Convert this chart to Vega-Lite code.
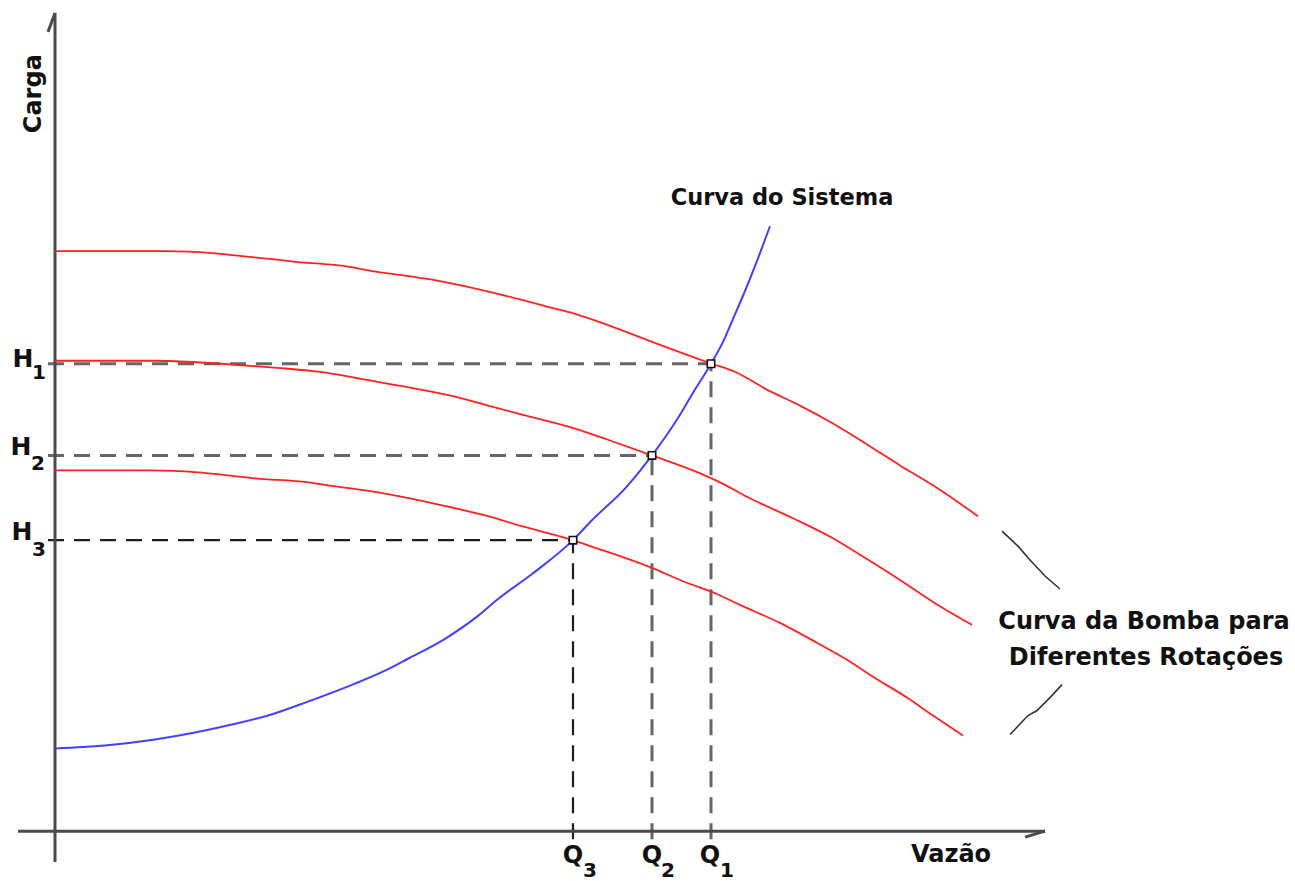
{
  "$schema": "https://vega.github.io/schema/vega-lite/v6.json",
  "width": 1295,
  "height": 881,
  "autosize": {"type": "fit", "contains": "padding"},
  "padding": 0,
  "background": "white",
  "config": {"view": {"stroke": null}},
  "datasets": {
    "curves": [
      {"id": "ya", "kind": "axis", "o": 0, "x": 0, "y": 821},
      {"id": "ya", "kind": "axis", "o": 1, "x": 0, "y": -31},
      {"id": "yarr", "kind": "axis", "o": 0, "x": 0, "y": 821},
      {"id": "yarr", "kind": "axis", "o": 1, "x": -7, "y": 802},
      {"id": "xa", "kind": "axis", "o": 0, "x": -37, "y": 0},
      {"id": "xa", "kind": "axis", "o": 1, "x": 990, "y": 0},
      {"id": "xarr", "kind": "axis", "o": 0, "x": 990, "y": 0},
      {"id": "xarr", "kind": "axis", "o": 1, "x": 970, "y": -6},

      {"id": "h1", "kind": "dash", "o": 0, "x": -7, "y": 469},
      {"id": "h1", "kind": "dash", "o": 1, "x": 656, "y": 469},
      {"id": "v1", "kind": "dash", "o": 0, "x": 656, "y": -8},
      {"id": "v1", "kind": "dash", "o": 1, "x": 656, "y": 469},
      {"id": "h2", "kind": "dash", "o": 0, "x": -7, "y": 377},
      {"id": "h2", "kind": "dash", "o": 1, "x": 597, "y": 377},
      {"id": "v2", "kind": "dash", "o": 0, "x": 597, "y": -8},
      {"id": "v2", "kind": "dash", "o": 1, "x": 597, "y": 377},
      {"id": "h3", "kind": "dash2", "o": 0, "x": -7, "y": 292},
      {"id": "h3", "kind": "dash2", "o": 1, "x": 518, "y": 292},
      {"id": "v3", "kind": "dash2", "o": 0, "x": 518, "y": -8},
      {"id": "v3", "kind": "dash2", "o": 1, "x": 518, "y": 292},

      {"id": "r1", "kind": "red", "o": 0, "x": 0, "y": 582},
      {"id": "r1", "kind": "red", "o": 1, "x": 110, "y": 582},
      {"id": "r1", "kind": "red", "o": 2, "x": 157, "y": 580},
      {"id": "r1", "kind": "red", "o": 3, "x": 187, "y": 577},
      {"id": "r1", "kind": "red", "o": 4, "x": 217, "y": 574},
      {"id": "r1", "kind": "red", "o": 5, "x": 243, "y": 571},
      {"id": "r1", "kind": "red", "o": 6, "x": 270, "y": 569},
      {"id": "r1", "kind": "red", "o": 7, "x": 290, "y": 567},
      {"id": "r1", "kind": "red", "o": 8, "x": 317, "y": 562},
      {"id": "r1", "kind": "red", "o": 9, "x": 353, "y": 557},
      {"id": "r1", "kind": "red", "o": 10, "x": 390, "y": 551},
      {"id": "r1", "kind": "red", "o": 11, "x": 427, "y": 543},
      {"id": "r1", "kind": "red", "o": 12, "x": 467, "y": 533},
      {"id": "r1", "kind": "red", "o": 13, "x": 493, "y": 526},
      {"id": "r1", "kind": "red", "o": 14, "x": 520, "y": 519},
      {"id": "r1", "kind": "red", "o": 15, "x": 555, "y": 507},
      {"id": "r1", "kind": "red", "o": 16, "x": 605, "y": 488},
      {"id": "r1", "kind": "red", "o": 17, "x": 657, "y": 469},
      {"id": "r1", "kind": "red", "o": 18, "x": 680, "y": 461},
      {"id": "r1", "kind": "red", "o": 19, "x": 712, "y": 443},
      {"id": "r1", "kind": "red", "o": 20, "x": 745, "y": 427},
      {"id": "r1", "kind": "red", "o": 21, "x": 778, "y": 409},
      {"id": "r1", "kind": "red", "o": 22, "x": 812, "y": 388},
      {"id": "r1", "kind": "red", "o": 23, "x": 845, "y": 367},
      {"id": "r1", "kind": "red", "o": 24, "x": 878, "y": 347},
      {"id": "r1", "kind": "red", "o": 25, "x": 923, "y": 316},

      {"id": "r2", "kind": "red", "o": 0, "x": 0, "y": 472},
      {"id": "r2", "kind": "red", "o": 1, "x": 100, "y": 472},
      {"id": "r2", "kind": "red", "o": 2, "x": 150, "y": 470},
      {"id": "r2", "kind": "red", "o": 3, "x": 180, "y": 468},
      {"id": "r2", "kind": "red", "o": 4, "x": 233, "y": 464},
      {"id": "r2", "kind": "red", "o": 5, "x": 263, "y": 461},
      {"id": "r2", "kind": "red", "o": 6, "x": 283, "y": 458},
      {"id": "r2", "kind": "red", "o": 7, "x": 310, "y": 453},
      {"id": "r2", "kind": "red", "o": 8, "x": 350, "y": 446},
      {"id": "r2", "kind": "red", "o": 9, "x": 400, "y": 436},
      {"id": "r2", "kind": "red", "o": 10, "x": 433, "y": 427},
      {"id": "r2", "kind": "red", "o": 11, "x": 467, "y": 418},
      {"id": "r2", "kind": "red", "o": 12, "x": 520, "y": 404},
      {"id": "r2", "kind": "red", "o": 13, "x": 555, "y": 392},
      {"id": "r2", "kind": "red", "o": 14, "x": 597, "y": 377},
      {"id": "r2", "kind": "red", "o": 15, "x": 638, "y": 362},
      {"id": "r2", "kind": "red", "o": 16, "x": 665, "y": 350},
      {"id": "r2", "kind": "red", "o": 17, "x": 695, "y": 334},
      {"id": "r2", "kind": "red", "o": 18, "x": 738, "y": 314},
      {"id": "r2", "kind": "red", "o": 19, "x": 778, "y": 294},
      {"id": "r2", "kind": "red", "o": 20, "x": 812, "y": 273},
      {"id": "r2", "kind": "red", "o": 21, "x": 845, "y": 252},
      {"id": "r2", "kind": "red", "o": 22, "x": 878, "y": 230},
      {"id": "r2", "kind": "red", "o": 23, "x": 917, "y": 207},

      {"id": "r3", "kind": "red", "o": 0, "x": 0, "y": 362},
      {"id": "r3", "kind": "red", "o": 1, "x": 95, "y": 362},
      {"id": "r3", "kind": "red", "o": 2, "x": 143, "y": 360},
      {"id": "r3", "kind": "red", "o": 3, "x": 173, "y": 357},
      {"id": "r3", "kind": "red", "o": 4, "x": 200, "y": 354},
      {"id": "r3", "kind": "red", "o": 5, "x": 253, "y": 350},
      {"id": "r3", "kind": "red", "o": 6, "x": 273, "y": 347},
      {"id": "r3", "kind": "red", "o": 7, "x": 317, "y": 341},
      {"id": "r3", "kind": "red", "o": 8, "x": 350, "y": 335},
      {"id": "r3", "kind": "red", "o": 9, "x": 387, "y": 327},
      {"id": "r3", "kind": "red", "o": 10, "x": 433, "y": 316},
      {"id": "r3", "kind": "red", "o": 11, "x": 467, "y": 306},
      {"id": "r3", "kind": "red", "o": 12, "x": 518, "y": 292},
      {"id": "r3", "kind": "red", "o": 13, "x": 538, "y": 285},
      {"id": "r3", "kind": "red", "o": 14, "x": 565, "y": 276},
      {"id": "r3", "kind": "red", "o": 15, "x": 595, "y": 265},
      {"id": "r3", "kind": "red", "o": 16, "x": 630, "y": 250},
      {"id": "r3", "kind": "red", "o": 17, "x": 662, "y": 238},
      {"id": "r3", "kind": "red", "o": 18, "x": 685, "y": 227},
      {"id": "r3", "kind": "red", "o": 19, "x": 725, "y": 209},
      {"id": "r3", "kind": "red", "o": 20, "x": 762, "y": 189},
      {"id": "r3", "kind": "red", "o": 21, "x": 792, "y": 172},
      {"id": "r3", "kind": "red", "o": 22, "x": 818, "y": 155},
      {"id": "r3", "kind": "red", "o": 23, "x": 852, "y": 134},
      {"id": "r3", "kind": "red", "o": 24, "x": 878, "y": 116},
      {"id": "r3", "kind": "red", "o": 25, "x": 908, "y": 96},

      {"id": "b", "kind": "blue", "o": 0, "x": 0, "y": 83},
      {"id": "b", "kind": "blue", "o": 1, "x": 50, "y": 86},
      {"id": "b", "kind": "blue", "o": 2, "x": 100, "y": 92},
      {"id": "b", "kind": "blue", "o": 3, "x": 140, "y": 99},
      {"id": "b", "kind": "blue", "o": 4, "x": 177, "y": 107},
      {"id": "b", "kind": "blue", "o": 5, "x": 213, "y": 116},
      {"id": "b", "kind": "blue", "o": 6, "x": 253, "y": 130},
      {"id": "b", "kind": "blue", "o": 7, "x": 300, "y": 148},
      {"id": "b", "kind": "blue", "o": 8, "x": 330, "y": 161},
      {"id": "b", "kind": "blue", "o": 9, "x": 353, "y": 173},
      {"id": "b", "kind": "blue", "o": 10, "x": 390, "y": 193},
      {"id": "b", "kind": "blue", "o": 11, "x": 423, "y": 216},
      {"id": "b", "kind": "blue", "o": 12, "x": 443, "y": 233},
      {"id": "b", "kind": "blue", "o": 13, "x": 477, "y": 258},
      {"id": "b", "kind": "blue", "o": 14, "x": 518, "y": 292},
      {"id": "b", "kind": "blue", "o": 15, "x": 535, "y": 310},
      {"id": "b", "kind": "blue", "o": 16, "x": 572, "y": 346},
      {"id": "b", "kind": "blue", "o": 17, "x": 597, "y": 377},
      {"id": "b", "kind": "blue", "o": 18, "x": 622, "y": 413},
      {"id": "b", "kind": "blue", "o": 19, "x": 638, "y": 440},
      {"id": "b", "kind": "blue", "o": 20, "x": 656, "y": 469},
      {"id": "b", "kind": "blue", "o": 21, "x": 668, "y": 491},
      {"id": "b", "kind": "blue", "o": 22, "x": 678, "y": 514},
      {"id": "b", "kind": "blue", "o": 23, "x": 690, "y": 542},
      {"id": "b", "kind": "blue", "o": 24, "x": 705, "y": 580},
      {"id": "b", "kind": "blue", "o": 25, "x": 715, "y": 607},

      {"id": "c1", "kind": "conn", "o": 0, "x": 947, "y": 301},
      {"id": "c1", "kind": "conn", "o": 1, "x": 963, "y": 286},
      {"id": "c1", "kind": "conn", "o": 2, "x": 975, "y": 272},
      {"id": "c1", "kind": "conn", "o": 3, "x": 990, "y": 256},
      {"id": "c1", "kind": "conn", "o": 4, "x": 1005, "y": 243},
      {"id": "c2", "kind": "conn", "o": 0, "x": 1007, "y": 147},
      {"id": "c2", "kind": "conn", "o": 1, "x": 995, "y": 134},
      {"id": "c2", "kind": "conn", "o": 2, "x": 982, "y": 121},
      {"id": "c2", "kind": "conn", "o": 3, "x": 973, "y": 116},
      {"id": "c2", "kind": "conn", "o": 4, "x": 955, "y": 97}
    ],
    "pts": [
      {"q": "Q1", "x": 656, "y": 469},
      {"q": "Q2", "x": 597, "y": 377},
      {"q": "Q3", "x": 518, "y": 292}
    ],
    "labels": [
      {"t": "H", "x": -32, "y": 466, "fs": 25},
      {"t": "1", "x": -16, "y": 454, "fs": 20},
      {"t": "H", "x": -34, "y": 377, "fs": 25},
      {"t": "2", "x": -17, "y": 362, "fs": 20},
      {"t": "H", "x": -33, "y": 292, "fs": 25},
      {"t": "3", "x": -16, "y": 276, "fs": 20},
      {"t": "Q", "x": 518, "y": -32, "fs": 24},
      {"t": "3", "x": 535, "y": -46, "fs": 20},
      {"t": "Q", "x": 597, "y": -32, "fs": 24},
      {"t": "2", "x": 613, "y": -46, "fs": 20},
      {"t": "Q", "x": 655, "y": -32, "fs": 24},
      {"t": "1", "x": 672, "y": -46, "fs": 20},
      {"t": "Vazão", "x": 896, "y": -31, "fs": 24},
      {"t": "Curva do Sistema", "x": 727, "y": 628, "fs": 22.5},
      {"t": "Curva da Bomba para", "x": 1089, "y": 203, "fs": 24},
      {"t": "Diferentes Rotações", "x": 1091, "y": 167, "fs": 24}
    ],
    "vlabels": [
      {"t": "Carga", "x": -14, "y": 740}
    ]
  },
  "layer": [
    {
      "data": {"name": "curves"},
      "transform": [{"filter": "datum.kind === 'dash'"}],
      "mark": {"type": "line", "color": "#666666", "strokeWidth": 3, "strokeDash": [16, 10]},
      "encoding": {
        "x": {"field": "x", "type": "quantitative", "scale": {"domain": [-55, 1240], "nice": false, "zero": false}, "axis": null},
        "y": {"field": "y", "type": "quantitative", "scale": {"domain": [-47, 834], "nice": false, "zero": false}, "axis": null},
        "detail": {"field": "id"},
        "order": {"field": "o"}
      }
    },
    {
      "data": {"name": "curves"},
      "transform": [{"filter": "datum.kind === 'dash2'"}],
      "mark": {"type": "line", "color": "#1e1e1e", "strokeWidth": 2.2, "strokeDash": [16, 10]},
      "encoding": {
        "x": {"field": "x", "type": "quantitative", "axis": null},
        "y": {"field": "y", "type": "quantitative", "axis": null},
        "detail": {"field": "id"},
        "order": {"field": "o"}
      }
    },
    {
      "data": {"name": "curves"},
      "transform": [{"filter": "datum.kind === 'axis'"}],
      "mark": {"type": "line", "color": "#4a4a4a", "strokeWidth": 3},
      "encoding": {
        "x": {"field": "x", "type": "quantitative", "axis": null},
        "y": {"field": "y", "type": "quantitative", "axis": null},
        "detail": {"field": "id"},
        "order": {"field": "o"}
      }
    },
    {
      "data": {"name": "curves"},
      "transform": [{"filter": "datum.kind === 'red'"}],
      "mark": {"type": "line", "color": "#ff2222", "strokeWidth": 1.8, "interpolate": "monotone"},
      "encoding": {
        "x": {"field": "x", "type": "quantitative", "axis": null},
        "y": {"field": "y", "type": "quantitative", "axis": null},
        "detail": {"field": "id"},
        "order": {"field": "o"}
      }
    },
    {
      "data": {"name": "curves"},
      "transform": [{"filter": "datum.kind === 'blue'"}],
      "mark": {"type": "line", "color": "#4141ff", "strokeWidth": 2, "interpolate": "monotone"},
      "encoding": {
        "x": {"field": "x", "type": "quantitative", "axis": null},
        "y": {"field": "y", "type": "quantitative", "axis": null},
        "detail": {"field": "id"},
        "order": {"field": "o"}
      }
    },
    {
      "data": {"name": "curves"},
      "transform": [{"filter": "datum.kind === 'conn'"}],
      "mark": {"type": "line", "color": "#333333", "strokeWidth": 1.6},
      "encoding": {
        "x": {"field": "x", "type": "quantitative", "axis": null},
        "y": {"field": "y", "type": "quantitative", "axis": null},
        "detail": {"field": "id"},
        "order": {"field": "o"}
      }
    },
    {
      "data": {"name": "pts"},
      "mark": {"type": "point", "shape": "square", "size": 55, "filled": true, "fill": "white", "stroke": "#111111", "strokeWidth": 1.6, "opacity": 1},
      "encoding": {
        "x": {"field": "x", "type": "quantitative", "axis": null},
        "y": {"field": "y", "type": "quantitative", "axis": null}
      }
    },
    {
      "data": {"name": "labels"},
      "mark": {"type": "text", "font": "DejaVu Sans", "fontWeight": "bold", "align": "center", "baseline": "alphabetic", "color": "#111111"},
      "encoding": {
        "x": {"field": "x", "type": "quantitative", "axis": null},
        "y": {"field": "y", "type": "quantitative", "axis": null},
        "text": {"field": "t"},
        "size": {"field": "fs", "type": "quantitative", "scale": null}
      }
    },
    {
      "data": {"name": "vlabels"},
      "mark": {"type": "text", "font": "DejaVu Sans", "fontWeight": "bold", "align": "center", "baseline": "alphabetic", "angle": 270, "fontSize": 24, "color": "#111111"},
      "encoding": {
        "x": {"field": "x", "type": "quantitative", "axis": null},
        "y": {"field": "y", "type": "quantitative", "axis": null},
        "text": {"field": "t"}
      }
    }
  ]
}
